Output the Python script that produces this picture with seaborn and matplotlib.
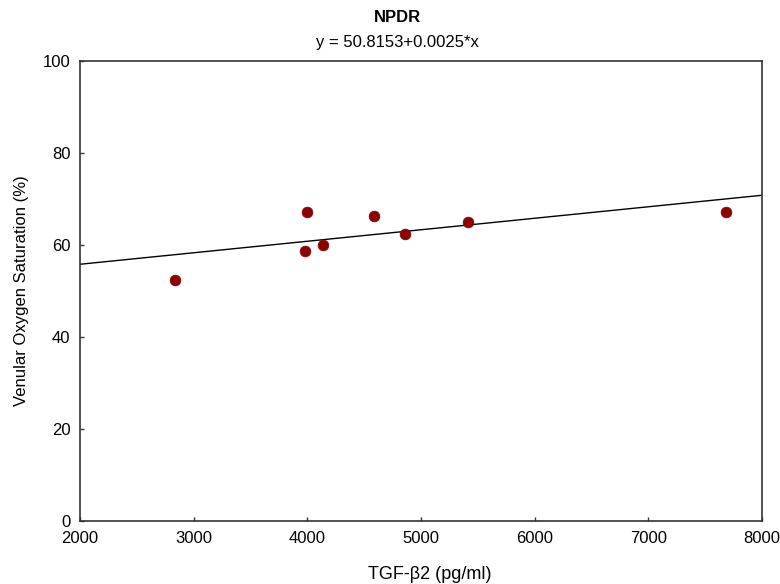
import numpy as np
import pandas as pd
import matplotlib
matplotlib.use("Agg")
import matplotlib.pyplot as plt
import seaborn as sns

# Data
tgf_b2 = [2836, 4000, 3979, 4135, 4589, 4856, 5413, 7683]
venular_o2 = [52.4, 67.2, 58.7, 60.1, 66.2, 62.5, 65.0, 67.1]
intercept = 50.8153
slope = 0.0025
x_ticks = [2000, 3000, 4000, 5000, 6000, 7000, 8000]
y_ticks = [0, 20, 40, 60, 80, 100]

df = pd.DataFrame({"x": tgf_b2, "y": venular_o2})

sns.set_theme(style="white")
plt.rcParams["font.family"] = ["Liberation Sans", "DejaVu Sans"]
plt.rcParams["text.color"] = "black"
plt.rcParams["axes.labelcolor"] = "black"

fig = plt.figure(figsize=(7.8, 5.84), dpi=100)
ax = fig.add_axes([0.1026, 0.1079, 0.8744, 0.7876])

line_x = np.array([x_ticks[0], x_ticks[-1]], dtype=float)
line_y = intercept + slope * line_x
ax.plot(line_x, line_y, color="black", lw=1.0, zorder=2)

sns.scatterplot(data=df, x="x", y="y", ax=ax, color="#8b0000", s=60,
                edgecolor="#8b0000", linewidth=0.5, zorder=3)

ax.set_xlim(x_ticks[0], x_ticks[-1])
ax.set_ylim(y_ticks[0], y_ticks[-1])
ax.set_xticks(x_ticks)
ax.set_yticks(y_ticks)
ax.tick_params(bottom=True, left=True, top=False, right=False,
               direction="in", length=3, width=1, colors="#333333",
               labelcolor="black", labelsize=12, pad=7)
for sp in ax.spines.values():
    sp.set_color("#333333")
    sp.set_linewidth(1.2)

ax.set_xlabel("TGF-β2 (pg/ml)", fontsize=13, labelpad=14)
ax.xaxis.set_label_coords((430 - 80) / 682, -0.098)
ax.set_ylabel("Venular Oxygen Saturation (%)", fontsize=12, labelpad=10)
fig.text(397 / 780, 1 - 17 / 584, "NPDR", ha="center", va="center",
         fontsize=12, fontweight="bold")
fig.text(397 / 780, 1 - 42 / 584, "y = 50.8153+0.0025*x",
         ha="center", va="center", fontsize=12)

fig.savefig("out.png", dpi=100)
